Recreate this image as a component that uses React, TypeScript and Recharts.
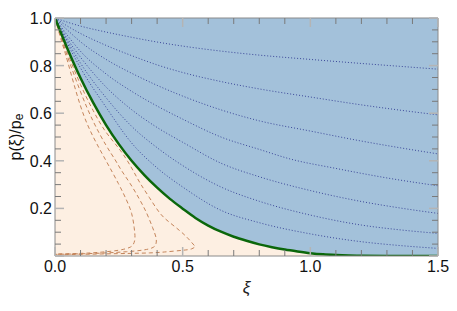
import { ComposedChart, Line, Area, XAxis, YAxis, CartesianGrid, Label } from 'recharts';

// (ξ, p/pe) pairs
const boundary: [number, number][] = [
  [0, 1], [0.05, 0.868], [0.1, 0.748], [0.15, 0.643], [0.2, 0.55], [0.25, 0.47],
  [0.3, 0.4], [0.35, 0.34], [0.4, 0.287], [0.45, 0.24], [0.5, 0.199], [0.55, 0.16],
  [0.6, 0.128], [0.65, 0.102], [0.7, 0.081], [0.75, 0.064], [0.8, 0.049], [0.85, 0.037],
  [0.9, 0.027], [0.95, 0.019], [1.0, 0.012], [1.05, 0.007], [1.1, 0.004], [1.15, 0.002],
  [1.2, 0.001], [1.3, 0], [1.5, 0],
];

const outer1: [number, number][] = [[0, 1], [0.05, 0.982], [0.1, 0.966], [0.2, 0.941], [0.3, 0.919], [0.4, 0.899], [0.5, 0.882], [0.65, 0.861], [0.8, 0.844], [1.0, 0.826], [1.2, 0.809], [1.35, 0.797], [1.5, 0.785]];
const outer2: [number, number][] = [[0, 1], [0.05, 0.965], [0.1, 0.935], [0.2, 0.885], [0.3, 0.842], [0.4, 0.803], [0.5, 0.771], [0.65, 0.733], [0.8, 0.702], [1.0, 0.668], [1.2, 0.635], [1.35, 0.613], [1.5, 0.593]];
const outer3: [number, number][] = [[0, 1], [0.05, 0.948], [0.1, 0.9], [0.2, 0.826], [0.3, 0.768], [0.4, 0.717], [0.5, 0.672], [0.65, 0.614], [0.8, 0.568], [1.0, 0.525], [1.2, 0.483], [1.35, 0.455], [1.5, 0.429]];
const outer4: [number, number][] = [[0, 1], [0.05, 0.925], [0.1, 0.86], [0.2, 0.765], [0.3, 0.692], [0.4, 0.63], [0.5, 0.575], [0.65, 0.5], [0.8, 0.448], [0.92, 0.408], [1.1, 0.368], [1.3, 0.328], [1.5, 0.295]];
const outer5: [number, number][] = [[0, 1], [0.05, 0.91], [0.1, 0.835], [0.2, 0.71], [0.3, 0.615], [0.4, 0.54], [0.5, 0.478], [0.65, 0.39], [0.8, 0.333], [1.0, 0.275], [1.2, 0.229], [1.35, 0.202], [1.5, 0.179]];
const outer6: [number, number][] = [[0, 1], [0.05, 0.9], [0.1, 0.81], [0.2, 0.665], [0.3, 0.545], [0.4, 0.455], [0.5, 0.38], [0.65, 0.29], [0.8, 0.23], [1.0, 0.172], [1.2, 0.13], [1.35, 0.11], [1.5, 0.095]];
const outer7: [number, number][] = [[0, 1], [0.05, 0.89], [0.1, 0.79], [0.2, 0.625], [0.3, 0.475], [0.4, 0.37], [0.5, 0.29], [0.65, 0.192], [0.8, 0.14], [1.0, 0.093], [1.2, 0.06], [1.35, 0.044], [1.5, 0.032]];

const inner1: [number, number][] = [[0, 1], [0.025, 0.905], [0.05, 0.815], [0.1, 0.63], [0.15, 0.5], [0.2, 0.4], [0.248, 0.305], [0.28, 0.235], [0.3, 0.179], [0.31, 0.12], [0.313, 0.074], [0.306, 0.048], [0.29, 0.035], [0.248, 0.024], [0.18, 0.016], [0.1, 0.011], [0, 0.009]];
const inner2: [number, number][] = [[0, 1], [0.025, 0.915], [0.05, 0.835], [0.1, 0.69], [0.15, 0.565], [0.2, 0.465], [0.235, 0.405], [0.26, 0.36], [0.294, 0.305], [0.33, 0.24], [0.359, 0.18], [0.382, 0.12], [0.396, 0.075], [0.394, 0.047], [0.38, 0.034], [0.345, 0.025], [0.28, 0.018], [0.2, 0.013], [0.1, 0.009], [0, 0.007]];
const inner3: [number, number][] = [[0, 1], [0.02, 0.935], [0.05, 0.85], [0.1, 0.72], [0.15, 0.61], [0.2, 0.52], [0.255, 0.445], [0.3, 0.37], [0.333, 0.307], [0.37, 0.245], [0.411, 0.18], [0.45, 0.14], [0.49, 0.105], [0.52, 0.075], [0.545, 0.045], [0.548, 0.038], [0.535, 0.03], [0.5, 0.024], [0.43, 0.017], [0.37, 0.013], [0.25, 0.01], [0.1, 0.007], [0, 0.005]];

const xTicks = [0, 0.1, 0.2, 0.3, 0.4, 0.5, 0.6, 0.7, 0.8, 0.9, 1.0, 1.1, 1.2, 1.3, 1.4, 1.5];
const yTicks = [0, 0.05, 0.1, 0.15, 0.2, 0.25, 0.3, 0.35, 0.4, 0.45, 0.5, 0.55, 0.6, 0.65, 0.7, 0.75, 0.8, 0.85, 0.9, 0.95, 1.0];

const outerLines = [outer1, outer2, outer3, outer4, outer5, outer6, outer7];
const innerLines = [inner1, inner2, inner3];

const toRows = (pts: [number, number][]) => pts.map(([x, y]) => ({ x, y }));

const FONT = '"Liberation Sans", Arial, Helvetica, sans-serif';
const FRAME = '#8a8a8a';

const isMultiple = (v: number, step: number) => Math.abs(v / step - Math.round(v / step)) < 1e-6;

const XTick = (props: any) => {
  const { x, y, payload, top } = props;
  const v = payload.value;
  const major = isMultiple(v, 0.5);
  const len = major ? 9 : 6;
  const dir = top ? 1 : -1;
  return (
    <g>
      <line x1={x} x2={x} y1={y} y2={y + dir * len} stroke={major ? '#b4b4b4' : '#7a7a7a'} strokeWidth={major ? 1.5 : 1} />
      {!top && major && (
        <text x={x} y={y + 16} textAnchor="middle" fontSize={16} fontFamily={FONT} fill="#111">
          {v.toFixed(1)}
        </text>
      )}
    </g>
  );
};

const YTick = (props: any) => {
  const { x, y, payload, right } = props;
  const v = payload.value;
  const major = isMultiple(v, 0.2);
  const len = major ? 9 : 6;
  const dir = right ? -1 : 1;
  return (
    <g>
      <line x1={x} x2={x + dir * len} y1={y} y2={y} stroke={major ? '#b4b4b4' : '#7a7a7a'} strokeWidth={major ? 1.5 : 1} />
      {!right && major && v > 0 && (
        <text x={x - 3} y={y + 6} textAnchor="end" fontSize={16} fontFamily={FONT} fill="#111">
          {v.toFixed(1)}
        </text>
      )}
    </g>
  );
};

const YTitle = (props: any) => {
  const vb = props.viewBox;
  const cx = 15;
  const cy = vb.y + vb.height / 2;
  return (
    <text x={cx} y={cy} transform={`rotate(-90 ${cx} ${cy})`} textAnchor="middle" dominantBaseline="central" fontSize={16} fontFamily={FONT} fill="#111">
      p(ξ)/p<tspan fontSize={12} dy={4}>e</tspan>
    </text>
  );
};

const XTitle = (props: any) => {
  const vb = props.viewBox;
  return (
    <text x={vb.x + vb.width / 2} y={vb.y + 37} textAnchor="middle" fontSize={17} fontStyle="italic" fontFamily={FONT} fill="#222">
      ξ
    </text>
  );
};

export default function App() {
  return (
    <div style={{ position: 'absolute', left: 0, top: 0 }}>
      <ComposedChart width={457} height={311} margin={{ top: 17, right: 18, bottom: 0, left: 0 }}>
        <CartesianGrid horizontal={false} vertical={false} fill="#a3c1da" fillOpacity={1} />
        <Area
          data={toRows(boundary)}
          dataKey="y"
          type="monotone"
          baseValue={0}
          fill="#fdefe2"
          fillOpacity={1}
          stroke="none"
          isAnimationActive={false}
        />
        {outerLines.map((pts, i) => (
          <Line
            key={`o${i}`}
            data={toRows(pts)}
            dataKey="y"
            type="monotone"
            dot={false}
            stroke="#3b4799"
            strokeWidth={1}
            strokeDasharray="1 2"
            isAnimationActive={false}
          />
        ))}
        {innerLines.map((pts, i) => (
          <Line
            key={`i${i}`}
            data={toRows(pts)}
            dataKey="y"
            type="natural"
            dot={false}
            stroke="#c4845a"
            strokeWidth={1}
            strokeDasharray="4 3"
            isAnimationActive={false}
          />
        ))}
        <Line
          data={toRows(boundary)}
          dataKey="y"
          type="monotone"
          dot={false}
          stroke="#0b670b"
          strokeWidth={2.5}
          isAnimationActive={false}
        />
        {/* same curve on the mirror axes, invisible, so the top/right frame gets drawn */}
        <Line
          xAxisId="top"
          yAxisId="right"
          data={toRows(boundary)}
          dataKey="y"
          dot={false}
          stroke="none"
          legendType="none"
          isAnimationActive={false}
        />
        <XAxis
          dataKey="x"
          type="number"
          domain={[0, 1.5]}
          ticks={xTicks}
          interval={0}
          allowDataOverflow
          height={55}
          tickSize={0}
          tickMargin={0}
          tickLine={false}
          axisLine={{ stroke: FRAME }}
          tick={(p: any) => <XTick {...p} />}
        >
          <Label content={<XTitle />} />
        </XAxis>
        <XAxis
          xAxisId="top"
          orientation="top"
          dataKey="x"
          type="number"
          domain={[0, 1.5]}
          ticks={xTicks}
          interval={0}
          allowDataOverflow
          height={1}
          tickSize={0}
          tickMargin={0}
          tickLine={false}
          axisLine={{ stroke: FRAME }}
          tick={(p: any) => <XTick {...p} top />}
        />
        <YAxis
          type="number"
          domain={[0, 1]}
          ticks={yTicks}
          interval={0}
          allowDataOverflow
          width={55}
          tickSize={0}
          tickMargin={0}
          tickLine={false}
          axisLine={{ stroke: FRAME }}
          tick={(p: any) => <YTick {...p} />}
        >
          <Label content={<YTitle />} />
        </YAxis>
        <YAxis
          yAxisId="right"
          orientation="right"
          type="number"
          domain={[0, 1]}
          ticks={yTicks}
          interval={0}
          allowDataOverflow
          width={1}
          tickSize={0}
          tickMargin={0}
          tickLine={false}
          axisLine={{ stroke: FRAME }}
          tick={(p: any) => <YTick {...p} right />}
        />
      </ComposedChart>
    </div>
  );
}
